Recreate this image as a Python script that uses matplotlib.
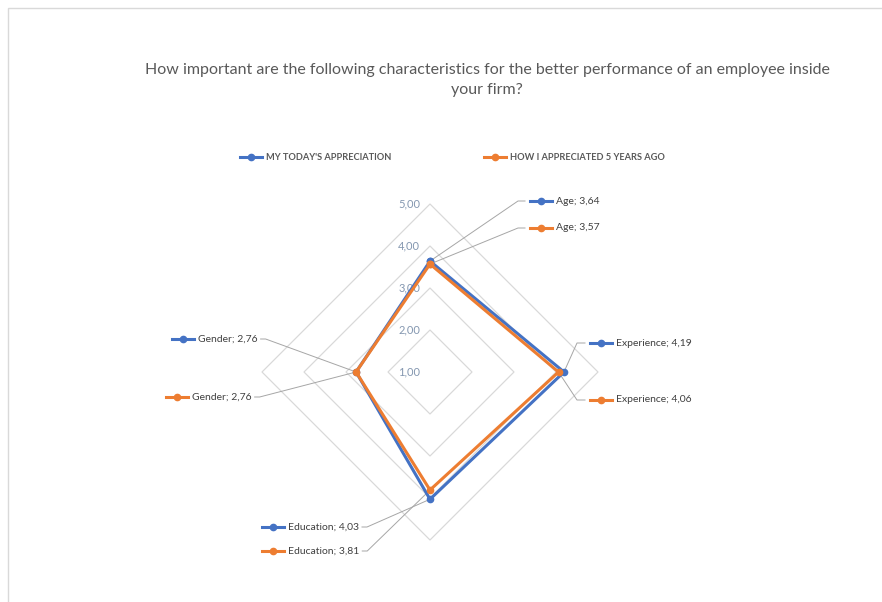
import matplotlib.pyplot as plt
from matplotlib.patches import Polygon, Rectangle
import numpy as np

plt.rcParams['font.family'] = ['Lato', 'DejaVu Sans']

# data
categories = ["Age", "Experience", "Education", "Gender"]
today = [3.64, 4.19, 4.03, 2.76]
five_years = [3.57, 4.06, 3.81, 2.76]
series_names = ["MY TODAY'S APPRECIATION", "HOW I APPRECIATED 5 YEARS AGO"]
ticks = [1, 2, 3, 4, 5]

BLUE = "#4472C4"
ORANGE = "#ED7D31"
GRID = "#d9d9d9"
TXT = "#595959"

# layout in pixels (figure 882x602), center of radar and px per unit
CX, CY, UNIT = 430, 372, 42.0
angles = np.deg2rad([90, 0, -90, 180])


def px(x, y):
    # pixel (from top-left) -> data coords
    return (x - CX) / UNIT, (CY - y) / UNIT


def polar_xy(vals):
    r = np.array(vals) - ticks[0]
    return r * np.cos(angles), r * np.sin(angles)


fig = plt.figure(figsize=(8.82, 6.02), dpi=100)
ax = fig.add_axes([0, 0, 1, 1])
ax.set_xlim(-CX / UNIT, (882 - CX) / UNIT)
ax.set_ylim(-(602 - CY) / UNIT, CY / UNIT)
ax.axis("off")

# chart border
fig.patches.append(Rectangle((8 / 882, -0.1), 1.1, (602 - 8) / 602 + 0.1,
                             transform=fig.transFigure, fill=False,
                             edgecolor=GRID, lw=1))

# diamond grid
for t in ticks[1:]:
    gx, gy = polar_xy([t] * 4)
    ax.add_patch(Polygon(np.column_stack([gx, gy]), closed=True, fill=False,
                         edgecolor=GRID, lw=0.9, zorder=1))
for t in ticks:
    x, y = px(420, CY - (t - 1) * UNIT)
    ax.text(x, y, f"{t:.2f}".replace(".", ","), ha="right", va="center",
            fontsize=8, color="#8497B0", zorder=2)

# series
for vals, col in [(today, BLUE), (five_years, ORANGE)]:
    xs, ys = polar_xy(vals)
    ax.plot(np.append(xs, xs[0]), np.append(ys, ys[0]), color=col, lw=2.2,
            marker="o", markersize=4.5, zorder=3, solid_joinstyle="miter")

# data labels: (key left px, y px, elbow x px)
label_pos = {
    (0, 0): (530, 201, 518), (1, 0): (530, 228, 518),
    (0, 1): (590, 343, 577), (1, 1): (590, 400, 577),
    (0, 2): (262, 527, None), (1, 2): (262, 551, None),
    (0, 3): (172, 339, None), (1, 3): (166, 397, None),
}
for si, (vals, col) in enumerate([(today, BLUE), (five_years, ORANGE)]):
    xs, ys = polar_xy(vals)
    for ci, cat in enumerate(categories):
        kx, ky, elbow = label_pos[(si, ci)]
        txt = f"{cat}; {vals[ci]:.2f}".replace(".", ",")
        # legend key
        k0 = px(kx, ky)
        k1 = px(kx + 22, ky)
        ax.plot([k0[0], k1[0]], [k0[1], k1[1]], color=col, lw=2.2, zorder=4)
        km = px(kx + 11, ky)
        ax.plot(km[0], km[1], "o", color=col, markersize=4.5, zorder=4)
        t = ax.text(*px(kx + 26, ky), txt, ha="left", va="center",
                    fontsize=7.5, color="#404040", zorder=4)
        # leader line
        if elbow is not None:
            p1 = px(elbow, ky)
            p2 = px(kx - 5, ky)
            ax.plot([xs[ci], p1[0], p2[0]], [ys[ci], p1[1], p2[1]],
                    color="#a6a6a6", lw=0.7, zorder=2)
        else:
            fig.canvas.draw()
            bb = t.get_window_extent()
            ex = bb.x1 + 3
            ey = 602 - ky
            a = ax.transData.inverted().transform((ex, ey))
            b = ax.transData.inverted().transform((ex + 5, ey))
            ax.plot([a[0], b[0], xs[ci]], [a[1], b[1], ys[ci]],
                    color="#a6a6a6", lw=0.7, zorder=2)

# title
fig.text(487 / 882, 1 - 70 / 602,
         "How important are the following characteristics for the better performance of an employee inside",
         ha="center", va="center", fontsize=11.5, color=TXT)
fig.text(487 / 882, 1 - 90 / 602, "your firm?", ha="center", va="center",
         fontsize=11.5, color=TXT)

# legend
for (lx, name), col in zip([(240, series_names[0]), (484, series_names[1])],
                           [BLUE, ORANGE]):
    a = px(lx, 157)
    b = px(lx + 22, 157)
    ax.plot([a[0], b[0]], [a[1], b[1]], color=col, lw=2.2)
    m = px(lx + 11, 157)
    ax.plot(m[0], m[1], "o", color=col, markersize=4.5)
    ax.text(*px(lx + 26, 157), name, ha="left", va="center", fontsize=6.7,
            fontweight="bold", color=TXT)

fig.savefig("out.png", dpi=100)
